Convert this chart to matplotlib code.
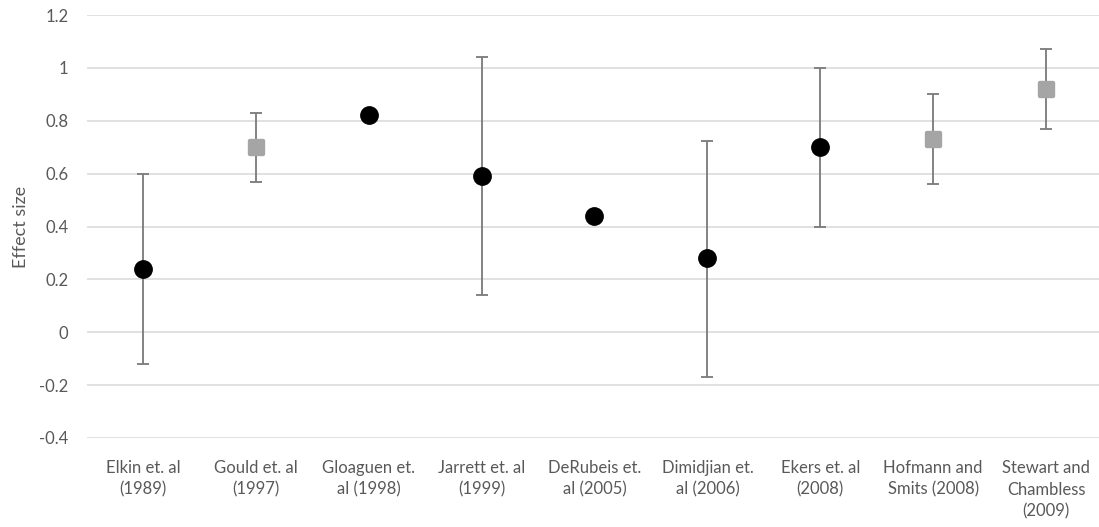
import numpy as np
import matplotlib
matplotlib.use("Agg")
import matplotlib.pyplot as plt
from matplotlib.path import Path

studies = [
    "Elkin et. al\n(1989)",
    "Gould et. al\n(1997)",
    "Gloaguen et.\nal (1998)",
    "Jarrett et. al\n(1999)",
    "DeRubeis et.\nal (2005)",
    "Dimidjian et.\nal (2006)",
    "Ekers et. al\n(2008)",
    "Hofmann and\nSmits (2008)",
    "Stewart and\nChambless\n(2009)",
]
effect = [0.24, 0.70, 0.82, 0.59, 0.44, 0.28, 0.70, 0.73, 0.92]
ci_low = [-0.12, 0.57, np.nan, 0.14, np.nan, -0.17, 0.40, 0.56, 0.77]
ci_high = [0.60, 0.83, np.nan, 1.04, np.nan, 0.725, 1.00, 0.90, 1.07]
# 'c' = individual trial (circle), 's' = meta-analysis (square)
kind = ["c", "s", "c", "c", "c", "c", "c", "s", "s"]
y_ticks = [-0.4, -0.2, 0, 0.2, 0.4, 0.6, 0.8, 1, 1.2]
y_tick_labels = ["-0.4", "-0.2", "0", "0.2", "0.4", "0.6", "0.8", "1", "1.2"]

plt.rcParams["font.family"] = ["Lato", "DejaVu Sans"]
text_color = "#595959"

fig = plt.figure(figsize=(10.99, 5.27), dpi=100)
ax = fig.add_axes([86.5 / 1099, 1 - 438 / 527, 1016 / 1099, 423 / 527])

x = np.arange(len(studies))
eff = np.array(effect)
lo = np.array(ci_low)
hi = np.array(ci_high)
has_ci = ~np.isnan(lo)

ax.errorbar(x[has_ci], eff[has_ci],
            yerr=[eff[has_ci] - lo[has_ci], hi[has_ci] - eff[has_ci]],
            fmt="none", ecolor="#7a7a7a", elinewidth=1.3, capsize=4.2,
            capthick=1.3, zorder=3)

# rounded square marker
r = 0.25
t = np.linspace(0, np.pi / 2, 6)
verts = []
for cx, cy, a0 in [(1 - r, 1 - r, 0), (-1 + r, 1 - r, np.pi / 2),
                   (-1 + r, -1 + r, np.pi), (1 - r, -1 + r, 1.5 * np.pi)]:
    for tt in t:
        verts.append((cx + r * np.cos(a0 + tt), cy + r * np.sin(a0 + tt)))
verts.append(verts[0])
codes = [Path.MOVETO] + [Path.LINETO] * (len(verts) - 2) + [Path.CLOSEPOLY]
rsquare = Path(verts, codes)

kind = np.array(kind)
circ = kind == "c"
sq = kind == "s"
ax.plot(x[circ], eff[circ], linestyle="none", marker="o", markersize=12.5,
        color="black", zorder=4)
ax.plot(x[sq], eff[sq], linestyle="none", marker=rsquare, markersize=12.5,
        color="#a5a5a5", markeredgewidth=0, zorder=4)

ax.set_xlim(-0.5, len(studies) - 0.5)
ax.set_ylim(-0.4, 1.2)
ax.set_yticks(y_ticks)
ax.set_yticklabels(y_tick_labels)
ax.set_xticks(x)
ax.set_xticklabels(studies, linespacing=1.42)
ax.tick_params(axis="both", length=0, labelsize=12, labelcolor=text_color)
ax.tick_params(axis="x", pad=16)
ax.tick_params(axis="y", pad=13)
ax.grid(axis="y", color="#d9d9d9", linewidth=1.1)
ax.set_axisbelow(True)
for s in ax.spines.values():
    s.set_visible(False)
ax.set_ylabel("Effect size", fontsize=13, color=text_color, labelpad=7)

fig.savefig("out.png", dpi=100)
